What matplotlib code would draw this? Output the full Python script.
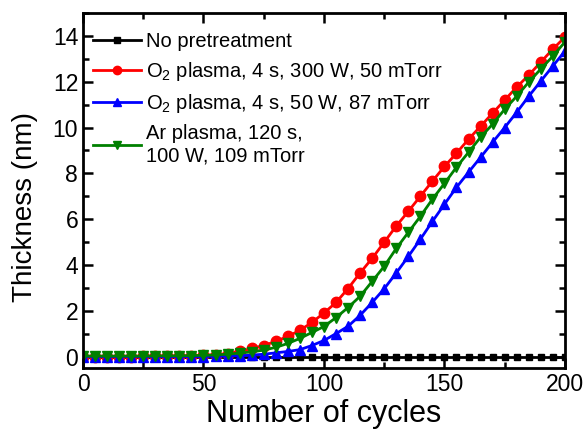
import matplotlib
matplotlib.use('Agg')
import matplotlib.pyplot as plt
from matplotlib.ticker import MultipleLocator
import numpy as np

plt.rcParams['font.family'] = ['Liberation Sans', 'DejaVu Sans']
plt.rcParams['mathtext.default'] = 'regular'

cycles = np.arange(0, 201, 5)

no_pre = [0.0] * 41

o2_300w = [0.0, 0.0, 0.0, 0.0, 0.0, 0.01, 0.01, 0.02, 0.02, 0.03, 0.05, 0.08,
           0.13, 0.22, 0.35, 0.48, 0.66, 0.88, 1.14, 1.49, 1.9, 2.36, 2.97,
           3.65, 4.29, 4.99, 5.7, 6.34, 7.0, 7.66, 8.3, 8.88, 9.49, 10.06,
           10.63, 11.2, 11.77, 12.29, 12.86, 13.43, 13.95]

o2_50w = [0.0, 0.0, 0.0, 0.0, 0.0, 0.0, 0.0, 0.0, 0.0, 0.0, 0.0, 0.01,
          0.02, 0.03, 0.06, 0.1, 0.16, 0.22, 0.3, 0.48, 0.7, 1.0, 1.32,
          1.8, 2.36, 2.96, 3.65, 4.37, 5.12, 5.9, 6.65, 7.39, 8.05, 8.7,
          9.36, 10.0, 10.67, 11.37, 12.03, 12.69, 13.34]

ar_100w = [0.02, 0.02, 0.02, 0.02, 0.02, 0.02, 0.03, 0.03, 0.03, 0.04, 0.05, 0.07,
           0.1, 0.15, 0.2, 0.28, 0.4, 0.57, 0.79, 1.05, 1.31, 1.7, 2.14,
           2.63, 3.28, 3.94, 4.72, 5.42, 6.12, 6.87, 7.56, 8.27, 8.92, 9.58,
           10.15, 10.8, 11.37, 11.99, 12.56, 13.12, 13.74]

fig = plt.figure(figsize=(5.87, 4.37), dpi=100)
ax = fig.add_axes([0.1414, 0.158, 0.821, 0.812])

ax.plot(cycles, no_pre, '-s', color='black', lw=2, ms=5, label='No pretreatment')
ax.plot(cycles, o2_300w, '-o', color='#ff0000', lw=2, ms=7.5,
        label='O$_2$ plasma, 4 s, 300 W, 50 mTorr')
ax.plot(cycles, o2_50w, '-^', color='#0000ff', lw=2, ms=7.5,
        label='O$_2$ plasma, 4 s, 50 W, 87 mTorr')
ax.plot(cycles, ar_100w, '-v', color='#008000', lw=2, ms=7.5,
        label='Ar plasma, 120 s,\n100 W, 109 mTorr')

ax.set_xlim(0, 200)
ax.set_ylim(-0.5, 15)
ax.xaxis.set_major_locator(MultipleLocator(50))
ax.xaxis.set_minor_locator(MultipleLocator(25))
ax.yaxis.set_major_locator(MultipleLocator(2))
ax.yaxis.set_minor_locator(MultipleLocator(1))
ax.tick_params(which='both', direction='in', top=True, right=True, width=1.8,
               labelsize=16.5)
ax.tick_params(which='major', length=7)
ax.tick_params(which='minor', length=4)
for s in ax.spines.values():
    s.set_linewidth(2)

ax.set_xlabel('Number of cycles', fontsize=22, labelpad=2)
ax.set_ylabel('Thickness (nm)', fontsize=20)
ax.yaxis.set_label_coords(-0.093, 0.454)

ax.legend(loc='upper left', frameon=False, fontsize=14.5, handlelength=2.4,
          handletextpad=0.25, labelspacing=0.45, borderaxespad=0,
          markerscale=0.8, bbox_to_anchor=(0.004, 0.969))

fig.savefig('out.png', dpi=100)
